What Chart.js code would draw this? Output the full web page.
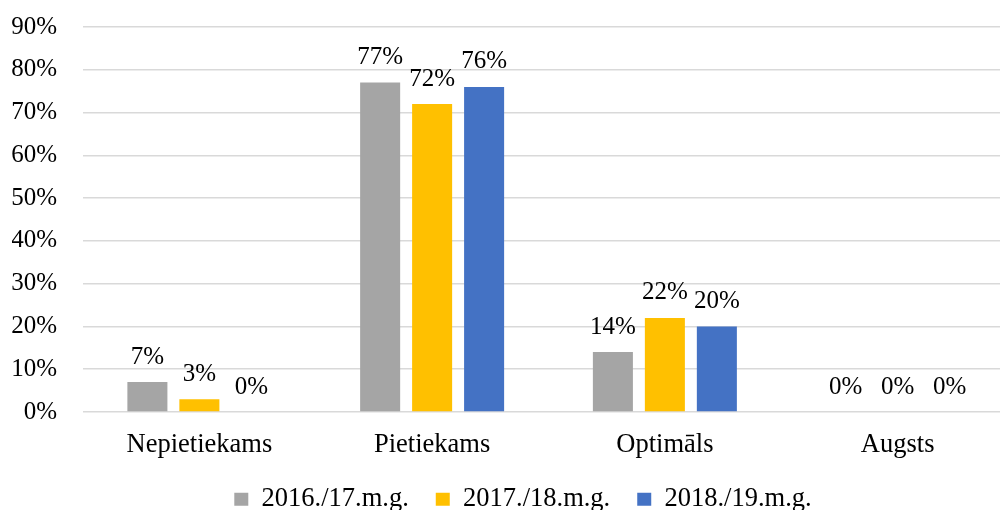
<!DOCTYPE html>
<html>
<head>
<meta charset="utf-8">
<script src="https://cdn.jsdelivr.net/npm/chart.js@4"></script>
<style>
  html, body { margin: 0; padding: 0; background: #fff; overflow: hidden; }
  /* the plot area runs a little past the right edge in the original */
  #wrap { width: 1000px; height: 510px; overflow: hidden; }
</style>
</head>
<body>
<div id="wrap"><canvas id="levelsChart" width="1014" height="510"></canvas></div>
<script>
// Data
const categories = ['Nepietiekams', 'Pietiekams', 'Optimāls', 'Augsts'];
const seriesNames = ['2016./17.m.g.', '2017./18.m.g.', '2018./19.m.g.'];
const values1617 = [7, 77, 14, 0];
const values1718 = [3, 72, 22, 0];
const values1819 = [0, 76, 20, 0];
const yTicks = [0, 10, 20, 30, 40, 50, 60, 70, 80, 90];

const colors = ['#A5A5A5', '#FFC000', '#4472C4'];
const fontFamily = '"Liberation Serif", "Times New Roman", serif';

// Simple value labels above the bars
const valueLabels = {
    id: 'valueLabels',
    afterDatasetsDraw(chart) {
        const ctx = chart.ctx;
        ctx.save();
        ctx.font = '25px ' + fontFamily;
        ctx.fillStyle = '#000';
        ctx.textAlign = 'center';
        ctx.textBaseline = 'middle';
        chart.data.datasets.forEach((ds, i) => {
            const meta = chart.getDatasetMeta(i);
            meta.data.forEach((bar, j) => {
                ctx.fillText(ds.data[j] + '%', bar.x, bar.y - 25);
            });
        });
        ctx.restore();
    }
};

// nudge the legend a bit to the right, like the original
const legendShift = {
    id: 'legendShift',
    afterLayout(chart) {
        chart.legend.left += 10;
        chart.legend.right += 10;
    }
};

const ctx = document.getElementById('levelsChart').getContext('2d');

const levelsChart = new Chart(ctx, {
    type: 'bar',
    data: {
        labels: categories,
        datasets: [values1617, values1718, values1819].map((vals, i) => ({
            label: seriesNames[i],
            backgroundColor: colors[i],
            data: vals,
            categoryPercentage: 0.67,
            barPercentage: 0.77
        }))
    },
    options: {
        responsive: false,
        animation: false,
        layout: {
            padding: { top: 27, left: 12, right: 0, bottom: 0 }
        },
        plugins: {
            tooltip: { enabled: false },
            legend: {
                position: 'bottom',
                maxHeight: 51,
                labels: {
                    boxWidth: 14,
                    boxHeight: 13,
                    padding: 27,
                    color: '#000',
                    font: { family: fontFamily, size: 26.5 }
                }
            }
        },
        scales: {
            x: {
                grid: { display: false, drawTicks: false },
                border: { display: false },
                ticks: {
                    color: '#000',
                    padding: 17,
                    font: { family: fontFamily, size: 26.5 }
                },
                afterFit(scale) {
                    scale.height = 47;
                    scale.paddingLeft = 0;
                    scale.paddingRight = 0;
                }
            },
            y: {
                min: 0,
                max: 90,
                afterBuildTicks(scale) {
                    scale.ticks = yTicks.map(v => ({ value: v }));
                },
                afterFit(scale) {
                    scale.width = 71;
                    scale.paddingTop = 0;
                    scale.paddingBottom = 0;
                },
                grid: { color: '#D9D9D9', lineWidth: 1.5, drawTicks: false },
                border: { display: false },
                ticks: {
                    color: '#000',
                    padding: 26,
                    font: { family: fontFamily, size: 25 },
                    callback: v => v + '%'
                }
            }
        }
    },
    plugins: [valueLabels, legendShift]
});
</script>
</body>
</html>
